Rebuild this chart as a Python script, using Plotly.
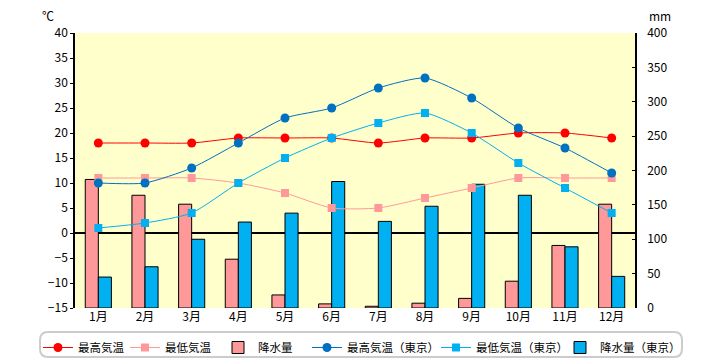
import plotly.graph_objects as go

months = ["1月", "2月", "3月", "4月", "5月", "6月", "7月", "8月", "9月", "10月", "11月", "12月"]
max_temp = [18, 18, 18, 19, 19, 19, 18, 19, 19, 20, 20, 19]
min_temp = [11, 11, 11, 10, 8, 5, 5, 7, 9, 11, 11, 11]
rain = [187, 164, 151, 71, 19, 6, 2.5, 7, 14, 39, 91, 151]
max_tokyo = [10, 10, 13, 18, 23, 25, 29, 31, 27, 21, 17, 12]
min_tokyo = [1, 2, 4, 10, 15, 19, 22, 24, 20, 14, 9, 4]
rain_tokyo = [45, 60, 100, 125, 138, 184, 126, 148, 180, 164, 89, 46]

temp_ticks = list(range(-15, 41, 5))
rain_ticks = list(range(0, 401, 50))

FONT = "Noto Sans CJK JP"
RED = "#FF0000"
PINK = "#FF9999"
DBLUE = "#0070C0"
LBLUE = "#00B0F0"

# plot area in pixels
L, R, T, B = 75, 635, 33, 308
PW, PH = R - L, B - T

def px(x):
    return (x - L) / PW

def py(y):
    return (B - y) / PH

fig = go.Figure()

fig.add_trace(go.Bar(x=months, y=rain, name="降水量", marker=dict(color=PINK, line=dict(color="black", width=1)),
                     yaxis="y", legend="legend3"))
fig.add_trace(go.Bar(x=months, y=rain_tokyo, name="降水量（東京）", marker=dict(color=LBLUE, line=dict(color="black", width=1)),
                     yaxis="y", legend="legend6"))

def line(y, name, color, symbol, size, leg):
    return go.Scatter(x=months, y=y, name=name, mode="lines+markers", yaxis="y2",
                      line=dict(color=color, width=1, shape="spline", smoothing=0.6),
                      marker=dict(color=color, symbol=symbol, size=size), legend=leg)

fig.add_trace(line(min_temp, "最低気温", PINK, "square", 8, "legend2"))
fig.add_trace(line(max_temp, "最高気温", RED, "circle", 9, "legend"))
fig.add_trace(line(min_tokyo, "最低気温（東京）", LBLUE, "square", 8, "legend5"))
fig.add_trace(line(max_tokyo, "最高気温（東京）", DBLUE, "circle", 9, "legend4"))

# rounded legend frame
X0, X1 = px(40), px(682)
Y0, Y1 = py(357), py(332)
rx, ry = 8 / PW, 8 / PH
path = (f"M {X0+rx},{Y1} L {X1-rx},{Y1} Q {X1},{Y1} {X1},{Y1-ry} L {X1},{Y0+ry} Q {X1},{Y0} {X1-rx},{Y0} "
        f"L {X0+rx},{Y0} Q {X0},{Y0} {X0},{Y0+ry} L {X0},{Y1-ry} Q {X0},{Y1} {X0+rx},{Y1} Z")

text_starts = [78, 165, 258, 347, 476, 600]
legends = {}
for i, ts in enumerate(text_starts):
    key = "legend" if i == 0 else f"legend{i+1}"
    legends[key] = dict(orientation="h", x=px(ts - 40), xanchor="left", y=py(333), yanchor="top",
                        font=dict(size=11.5, family=FONT), bgcolor="rgba(0,0,0,0)", borderwidth=0,
                        itemwidth=30)

fig.update_layout(
    width=720, height=360,
    margin=dict(l=L, r=720 - R, t=T, b=360 - B, autoexpand=False),
    paper_bgcolor="white", plot_bgcolor="#FFFFCC",
    font=dict(family=FONT, size=12, color="black"),
    barmode="group", bargap=0.44, bargroupgap=0,
    showlegend=True,
    xaxis=dict(showgrid=False, showline=False, ticks="", tickfont=dict(size=12),
               range=[-0.5, len(months) - 0.5]),
    yaxis=dict(side="right", range=[0, 400], tickvals=rain_ticks, showgrid=False, zeroline=False,
               showline=True, linecolor="black", linewidth=1.5, ticks="inside", ticklen=3,
               tickcolor="black", ticklabelstandoff=8, tickfont=dict(size=12)),
    yaxis2=dict(overlaying="y", side="left", range=[-15, 40], tickvals=temp_ticks, showgrid=False,
                zeroline=True, zerolinecolor="black", zerolinewidth=1.5,
                showline=True, linecolor="black", linewidth=1.5, ticks="outside", ticklen=3,
                tickcolor="black", tickfont=dict(size=12)),
    shapes=[dict(type="path", xref="paper", yref="paper", path=path,
                 line=dict(color="#CCCCCC", width=2), fillcolor="rgba(0,0,0,0)")],
    annotations=[
        dict(text="℃", xref="paper", yref="paper", x=px(48), y=py(15), xanchor="center", yanchor="middle",
             showarrow=False, font=dict(size=12)),
        dict(text="mm", xref="paper", yref="paper", x=px(660), y=py(15), xanchor="center", yanchor="middle",
             showarrow=False, font=dict(size=12)),
    ],
    **legends,
)

fig.write_html("out.html", post_script="document.body.style.margin='0';",
               config={"displayModeBar": False})
